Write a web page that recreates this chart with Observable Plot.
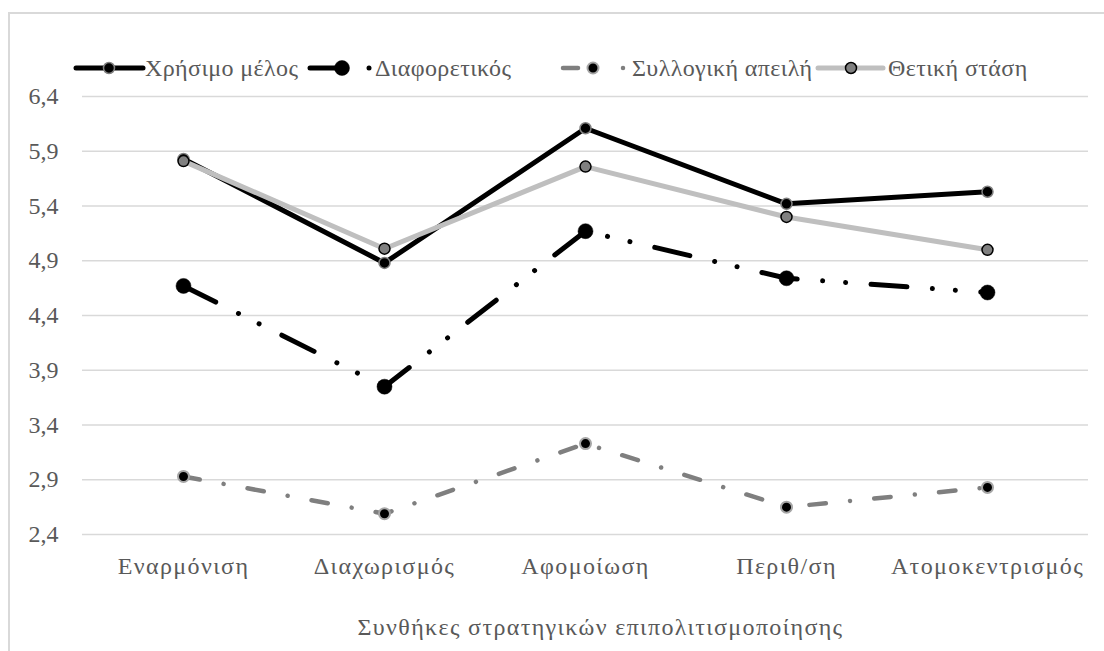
<!DOCTYPE html>
<html>
<head>
<meta charset="utf-8">
<script src="https://cdn.jsdelivr.net/npm/d3@7"></script>
<script src="https://cdn.jsdelivr.net/npm/@observablehq/plot@0.6"></script>
<style>
  html, body { margin: 0; padding: 0; background: #fff; }
  #wrap { position: relative; width: 1104px; height: 651px; overflow: hidden; font-family: 'Liberation Serif', 'DejaVu Serif', serif; color: #595959; }
  #frame { position: absolute; left: 8px; top: 12px; width: 1200px; height: 700px; border-top: 2px solid #d9d9d9; border-left: 2px solid #d9d9d9; box-sizing: border-box; }
  #legend { position: absolute; left: 0; top: 0; }
  #chart { position: absolute; left: 0; top: 84px; }
  #wrap svg text { font-family: 'Liberation Serif', 'DejaVu Serif', serif !important; }
  #chart g[aria-label="x-axis tick label"] text { letter-spacing: 1.4px; }
  #chart g[aria-label="text"] text { letter-spacing: 1.35px; }
  #legend text { letter-spacing: 0.4px; }
</style>
</head>
<body>
<div id="wrap">
  <div id="frame"></div>
  <svg id="legend" width="1104" height="84"></svg>
  <div id="chart"></div>
</div>
<script>
// ---- data ----
const categories = ["Εναρμόνιση", "Διαχωρισμός", "Αφομοίωση", "Περιθ/ση", "Ατομοκεντρισμός"];
const seriesNames = ["Χρήσιμο μέλος", "Διαφορετικός", "Συλλογική απειλή", "Θετική στάση"];
const usefulMember = [5.83, 4.88, 6.11, 5.42, 5.53];
const different = [4.67, 3.75, 5.17, 4.74, 4.61];
const collectiveThreat = [2.93, 2.59, 3.23, 2.65, 2.83];
const positiveAttitude = [5.81, 5.01, 5.76, 5.30, 5.00];
const yTicks = [2.4, 2.9, 3.4, 3.9, 4.4, 4.9, 5.4, 5.9, 6.4];
const xTitle = "Συνθήκες στρατηγικών επιπολιτισμοποίησης";

// ---- styles ----
const styles = [
  {line: "#000000", width: 5, dash: null, mFill: "#000000", mStroke: "#808080", r: 5.5, mw: 1.5},
  {line: "#000000", width: 5, dash: "36 25.5 0.01 23 0.01 25.5", mFill: "#000000", mStroke: "#000000", r: 7.5, mw: 0.5},
  {line: "#7f7f7f", width: 4.5, dash: "16.5 24.3 0.01 24.3", mFill: "#000000", mStroke: "#a6a6a6", r: 5.5, mw: 2},
  {line: "#bfbfbf", width: 5, dash: null, mFill: "#808080", mStroke: "#000000", r: 5.5, mw: 1.5}
];
const allValues = [usefulMember, different, collectiveThreat, positiveAttitude];
const rows = seriesNames.map((s, i) => categories.map((c, j) => ({series: s, cat: c, value: allValues[i][j]})));

const fmt = d => d.toFixed(1).replace(".", ",");
const FONT = "'Liberation Serif', 'DejaVu Serif', serif";

const marks = [
  Plot.ruleY(yTicks, {stroke: "#d9d9d9", strokeWidth: 1.5}),
  Plot.axisY(yTicks, {tickSize: 0, tickPadding: 24, tickFormat: fmt, label: null, fontSize: 24}),
  Plot.axisX({tickSize: 0, tickPadding: 22, label: null, fontSize: 24}),
  ...rows.map((d, i) => Plot.line(d, {
    x: "cat", y: "value", stroke: styles[i].line, strokeWidth: styles[i].width,
    strokeDasharray: styles[i].dash, strokeLinecap: styles[i].dash ? "round" : "butt", strokeLinejoin: "round"
  })),
  ...rows.map((d, i) => Plot.dot(d, {
    x: "cat", y: "value", r: styles[i].r, fill: styles[i].mFill, stroke: styles[i].mStroke, strokeWidth: styles[i].mw
  })),
  Plot.text([xTitle], {frameAnchor: "bottom", dy: 93, dx: 15, fontSize: 24, fill: "#595959", lineAnchor: "middle"})
];

const chart = Plot.plot({
  width: 1104,
  height: 567,
  marginLeft: 82,
  marginRight: 16,
  marginTop: 12,
  marginBottom: 117,
  x: {type: "point", domain: categories, padding: 0.5},
  y: {domain: [2.4, 6.4]},
  style: {fontFamily: FONT, fontSize: "24px", color: "#595959", background: "transparent", overflow: "visible"},
  marks
});
document.getElementById("chart").appendChild(chart);

// ---- legend ----
const lg = d3.select("#legend");
const ly = 68;
const items = [
  {x0: 76, x1: 143, m: 109, dot: null, text: 145},
  {x0: 310, x1: 343, m: 342, dot: 369, text: 375},
  {x0: 563, x1: 578, m: 593, dot: 623, text: 632},
  {x0: 818, x1: 883, m: 851, dot: null, text: 888}
];
items.forEach((it, i) => {
  const s = styles[i];
  lg.append("line").attr("x1", it.x0).attr("x2", it.x1).attr("y1", ly).attr("y2", ly)
    .attr("stroke", s.line).attr("stroke-width", s.width).attr("stroke-linecap", "round");
  if (it.dot) lg.append("circle").attr("cx", it.dot).attr("cy", ly).attr("r", s.width / 2).attr("fill", s.line);
  lg.append("circle").attr("cx", it.m).attr("cy", ly).attr("r", s.r)
    .attr("fill", s.mFill).attr("stroke", s.mStroke).attr("stroke-width", s.mw);
  lg.append("text").attr("x", it.text).attr("y", ly).attr("dy", "0.35em")
    .attr("font-size", 24).attr("fill", "#595959").text(seriesNames[i]);
});
</script>
</body>
</html>
